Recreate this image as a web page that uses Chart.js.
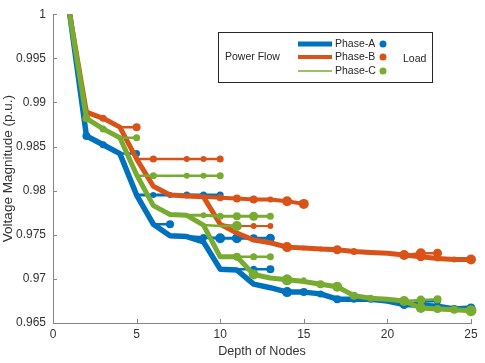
<!DOCTYPE html>
<html><head><meta charset="utf-8">
<script src="https://cdn.jsdelivr.net/npm/chart.js@4/dist/chart.umd.min.js"></script>
<style>html,body{margin:0;padding:0;background:#fff}#wrap{width:485px;height:363px;position:relative}</style>
</head><body><div id="wrap"><canvas id="c" width="485" height="363"></canvas></div>
<script>
// ---------- DATA ----------
const depth = [1,2,3,4,5,6,7,8,9,10,11,12,13,14,15,16,17,18,19,20,21,22,23,24,25];
const xTicks = [0,5,10,15,20,25];
const yTicks = [0.965,0.97,0.975,0.98,0.985,0.99,0.995,1];

const phaseA_main = [1.0000,0.9862,0.9852,0.9842,0.9795,0.9762,0.9749,0.9748,0.9742,0.9711,0.9710,0.9694,0.9690,0.9685,0.9685,0.9683,0.9677,0.9677,0.9677,0.9675,0.9671,0.9670,0.9669,0.9666,0.9667];
const phaseB_main = [1.0000,0.9889,0.9882,0.9872,0.9836,0.9805,0.9795,0.9794,0.9793,0.9762,0.9752,0.9744,0.9741,0.9736,0.9735,0.9734,0.9733,0.9731,0.9730,0.9729,0.9727,0.9725,0.9723,0.9722,0.9722];
const phaseC_main = [1.0000,0.9882,0.9870,0.9860,0.9818,0.9783,0.9773,0.9772,0.9761,0.9725,0.9725,0.9705,0.9701,0.9699,0.9697,0.9694,0.9691,0.9681,0.9678,0.9677,0.9675,0.9667,0.9666,0.9665,0.9664];

const phaseA_branchDepths = [[4,5],[5,6,7,8,9,10],[6,7],[8,9,10,11,12,13],[10,11,12,13],[21,22,23]];
const phaseA_branchVolts  = [[0.9842,0.9842],[0.9795,0.9795,0.9795,0.9795,0.9795,0.9795],[0.9762,0.9762],[0.9748,0.9747,0.9746,0.9746,0.9746,0.9746],[0.9711,0.9711,0.9711,0.9711],[0.9671,0.9674,0.9675]];

const phaseB_branchDepths = [[4,5],[5,6,7,8,9,10],[9,10,11,12,13,14,15],[10,11,12,13],[21,22,23]];
const phaseB_branchVolts  = [[0.9872,0.9872],[0.9836,0.9836,0.9836,0.9836,0.9836,0.9836],[0.9793,0.9792,0.9791,0.9790,0.9790,0.9788,0.9785],[0.9762,0.9760,0.9760,0.9760],[0.9727,0.9729,0.9729]];

const phaseC_branchDepths = [[4,5],[5,6,7,8,9,10],[8,9,10,11,12,13],[9,10,11],[11,12,13],[14,15],[21,22,23]];
const phaseC_branchVolts  = [[0.9860,0.9860],[0.9817,0.9817,0.9817,0.9817,0.9817,0.9817],[0.9772,0.9772,0.9771,0.9771,0.9771,0.9771],[0.9761,0.9760,0.9760],[0.9725,0.9725,0.9725],[0.9699,0.9699],[0.9675,0.9676,0.9677]];

// ---------- STYLE ----------
const COL = {A:'#0072BD', B:'#D95319', C:'#77AC30'};
const FONT = '"Liberation Sans", Arial, Helvetica, sans-serif';
const mainRadA = [0,4,3.5,0,0,0,0,0,0,0,0,0,0,5,4,3.5,4,3.5,3.5,0,4.5,3,3,4,4.5];
const mainRadB = [0,3,3.5,0,0,0,0,0,0,0,0,0,0,5,2.5,2.5,4.5,3.5,2.5,0,5,4.5,3,3,5];
const mainRadC = [0,4,3.5,0,0,0,0,0,0,0,0,5,0,5.5,0,4,5,4,3.5,0,5,5,4,4,5.5];
const brRadA = [[0,3.5],[0,3,3,3.5,3.5,3.5],[0,4],[0,3.5,5,5,4,4.5],[0,0,3.5,4],[0,3,3.5]];
const brWidA = [2.5,3,2.5,3,2.5,2.5];
const brRadB = [[0,4],[0,3.5,0,3,3,3.5],[0,3.5,4,4,3,5,5],[0,3,3,3],[0,5,4.5]];
const brWidB = [2.5,2.5,4,2,2.5];
const brRadC = [[0,3.5],[0,3.5,0,3,3,3.5],[0,3,3.5,4,4.5,3.5],[0,0,5],[4,3.5,3.5],[0,2.5],[0,4.5,4]];
const brWidC = [2.5,2.5,3,2.5,2.5,2,2.5];

function mk(ds, vs, color, width, radii, order){
  return {
    data: ds.map((d,i)=>({x:d, y:vs[i]})),
    borderColor: color, backgroundColor: color,
    borderWidth: width, pointRadius: radii, pointHoverRadius: radii,
    pointBackgroundColor: color, pointBorderWidth: 0,
    borderJoinStyle: 'round', borderCapStyle: 'round',
    tension: 0, fill: false, order: order,
    clip: {left: 0, top: 0, right: 8, bottom: 8}
  };
}

const datasets = [];
datasets.push(mk(depth, phaseA_main, COL.A, 5.5, mainRadA, 6));
phaseA_branchDepths.forEach((d,i)=>datasets.push(mk(d, phaseA_branchVolts[i], COL.A, brWidA[i], brRadA[i], 5)));
datasets.push(mk(depth, phaseB_main, COL.B, 5, mainRadB, 4));
phaseB_branchDepths.forEach((d,i)=>datasets.push(mk(d, phaseB_branchVolts[i], COL.B, brWidB[i], brRadB[i], 3)));
datasets.push(mk(depth, phaseC_main, COL.C, 5, mainRadC, 2));
phaseC_branchDepths.forEach((d,i)=>datasets.push(mk(d, phaseC_branchVolts[i], COL.C, brWidC[i], brRadC[i], 1)));

const AXIS_COL = '#858585';
const TEXT_COL = '#333333';

const decor = {
  id: 'decor',
  afterDraw(chart){
    const ctx = chart.ctx, xs = chart.scales.x, ys = chart.scales.y;
    const ca = chart.chartArea;
    ctx.save();
    // inward ticks
    ctx.strokeStyle = AXIS_COL; ctx.lineWidth = 1;
    ctx.beginPath();
    xTicks.forEach(t=>{ const px = Math.round(xs.getPixelForValue(t))+0.5; ctx.moveTo(px, ca.bottom); ctx.lineTo(px, ca.bottom-4); });
    yTicks.forEach(t=>{ const py = Math.round(ys.getPixelForValue(t))+0.5; ctx.moveTo(ca.left, py); ctx.lineTo(ca.left+4, py); });
    ctx.stroke();
    // legend box
    const bx = 218.5, by = 32.5, bw = 214, bh = 50;
    ctx.fillStyle = '#fff'; ctx.fillRect(bx, by, bw, bh);
    ctx.strokeStyle = '#262626'; ctx.lineWidth = 1; ctx.strokeRect(bx, by, bw, bh);
    ctx.font = '10.5px ' + FONT; ctx.fillStyle = '#262626'; ctx.textBaseline = 'middle'; ctx.textAlign = 'left';
    ctx.fillText('Power Flow', 225, 57);
    const rows = [['Phase-A', COL.A, 44, 5], ['Phase-B', COL.B, 57, 4], ['Phase-C', COL.C, 71, 1.5]];
    rows.forEach(r=>{
      ctx.strokeStyle = r[1]; ctx.lineWidth = r[3];
      ctx.beginPath(); ctx.moveTo(298, r[2]); ctx.lineTo(332, r[2]); ctx.stroke();
      ctx.fillStyle = '#262626'; ctx.fillText(r[0], 335, r[2]);
      ctx.fillStyle = r[1]; ctx.beginPath(); ctx.arc(383, r[2], 3.5, 0, Math.PI*2); ctx.fill();
    });
    ctx.fillStyle = '#262626'; ctx.fillText('Load', 403, 59);
    ctx.restore();
  }
};

new Chart(document.getElementById('c'), {
  type: 'line',
  data: { datasets },
  options: {
    responsive: false, animation: false, devicePixelRatio: 1,
    layout: { padding: { top: 7, right: 14, left: 0, bottom: 0 } },
    plugins: { legend: { display: false }, tooltip: { enabled: false } },
    scales: {
      x: {
        type: 'linear', min: 0, max: 25,
        afterFit: s => { s.height = 40; },
        afterBuildTicks: s => { s.ticks = xTicks.map(v=>({value:v})); },
        ticks: { font: { family: FONT, size: 12 }, color: TEXT_COL, padding: 4, maxRotation: 0, callback: v => String(v) },
        grid: { display: true, drawOnChartArea: false, drawTicks: false },
        border: { display: true, color: AXIS_COL, width: 1 },
        title: { display: true, text: 'Depth of Nodes', font: { family: FONT, size: 12.6 }, color: TEXT_COL, padding: { top: 0, bottom: 4 } }
      },
      y: {
        type: 'linear', min: 0.965, max: 1,
        afterFit: s => { s.width = 53; },
        afterBuildTicks: s => { s.ticks = yTicks.map(v=>({value:v})); },
        ticks: { font: { family: FONT, size: 12 }, color: TEXT_COL, padding: 7, callback: v => String(parseFloat(v.toFixed(3))) },
        grid: { display: true, drawOnChartArea: false, drawTicks: false },
        border: { display: true, color: AXIS_COL, width: 1 },
        title: { display: true, text: 'Voltage Magnitude (p.u.)', font: { family: FONT, size: 13.5 }, color: TEXT_COL, padding: { top: 0, bottom: 0 } }
      }
    }
  },
  plugins: [decor]
});
</script></body></html>
